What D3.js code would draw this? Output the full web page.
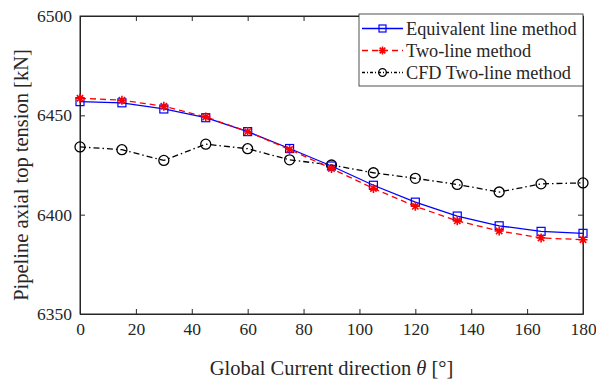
<!DOCTYPE html>
<html><head><meta charset="utf-8">
<script src="https://cdn.jsdelivr.net/npm/d3@7"></script>
<style>body{margin:0;background:#fff}svg{display:block}text{font-family:"Liberation Serif","Times New Roman",serif;fill:#262626}</style>
</head><body><svg id="c" width="596" height="382"></svg>
<script>
const angles = [0,15,30,45,60,75,90,105,120,135,150,165,180];
const equivalent = [6456.9,6456.3,6453.2,6448.8,6441.8,6433.3,6424.5,6414.8,6406.3,6399.3,6394.4,6391.6,6390.6];
const twoLine = [6458.6,6457.6,6454.6,6449.2,6441.8,6432.8,6423.2,6413.2,6404.2,6396.9,6391.8,6388.3,6387.4];
const cfdTwoLine = [6434.1,6432.7,6427.3,6435.5,6433.2,6427.6,6425.0,6421.1,6418.3,6415.2,6411.4,6415.5,6416.0];
const xTicks = [0,20,40,60,80,100,120,140,160,180];
const yTicks = [6350,6400,6450,6500];
const seriesNames = ["Equivalent line method","Two-line method","CFD Two-line method"];

const svg = d3.select("#c");
const L=80,R=583,T=16,B=314;
const x = d3.scaleLinear().domain([0,180]).range([L,R]);
const y = d3.scaleLinear().domain([6350,6500]).range([B,T]);

const axCol="#262626";
svg.append("rect").attr("x",L).attr("y",T).attr("width",R-L).attr("height",B-T).attr("fill","none").attr("stroke",axCol).attr("stroke-width",1);

const xa = svg.append("g").attr("transform",`translate(0,${B})`).call(d3.axisBottom(x).tickValues(xTicks).tickSizeInner(-5).tickSizeOuter(0).tickPadding(9));
const ya = svg.append("g").attr("transform",`translate(${L},0)`).call(d3.axisLeft(y).tickValues(yTicks).tickSizeInner(-5).tickSizeOuter(0).tickPadding(8).tickFormat(d3.format("d")));
const xt = svg.append("g").attr("transform",`translate(0,${T})`).call(d3.axisTop(x).tickValues(xTicks).tickSizeInner(-5).tickSizeOuter(0).tickFormat(""));
const yr = svg.append("g").attr("transform",`translate(${R},0)`).call(d3.axisRight(y).tickValues(yTicks).tickSizeInner(-5).tickSizeOuter(0).tickFormat(""));
[xa,ya,xt,yr].forEach(g=>{g.attr("font-family",null);g.select(".domain").attr("stroke",axCol);g.selectAll("line").attr("stroke",axCol);
  g.selectAll("text").style("font-size","17.5px").style("font-family","'Liberation Serif','Times New Roman',serif").attr("fill",axCol);});

svg.append("text").attr("x",(L+R)/2).attr("y",375).attr("text-anchor","middle").style("font-size","20.5px")
  .html('Global Current direction <tspan font-style="italic">θ</tspan> [°]');
svg.append("text").attr("transform",`translate(28,${(T+B)/2+10}) rotate(-90)`).attr("text-anchor","middle").style("font-size","20.5px")
  .text("Pipeline axial top tension [kN]");

const line = d3.line().x((d,i)=>x(angles[i])).y(d=>y(d));
const clip = svg.append("g");

function drawSeries(vals,color,dash,marker){
  clip.append("path").datum(vals).attr("d",line).attr("fill","none").attr("stroke",color).attr("stroke-width",1.3).attr("stroke-dasharray",dash);
  const g = clip.append("g");
  vals.forEach((v,i)=>marker(g,x(angles[i]),y(v)));
}
function sq(g,cx,cy,s=4){g.append("rect").attr("x",cx-s).attr("y",cy-s).attr("width",2*s).attr("height",2*s).attr("fill","none").attr("stroke","#0000ff").attr("stroke-width",1.2);}
function star(g,cx,cy,s=4.5){
  const p=[];[0,45,90,135].forEach(a=>{const r=a*Math.PI/180;p.push(`M${cx-s*Math.cos(r)},${cy-s*Math.sin(r)}L${cx+s*Math.cos(r)},${cy+s*Math.sin(r)}`);});
  g.append("path").attr("d",p.join("")).attr("stroke","#ff0000").attr("stroke-width",1.6).attr("fill","none");}
function circ(g,cx,cy,s=5){g.append("circle").attr("cx",cx).attr("cy",cy).attr("r",s).attr("fill","none").attr("stroke","#000").attr("stroke-width",1.3);}

drawSeries(cfdTwoLine,"#000","6,3,1.5,3",circ);
drawSeries(equivalent,"#0000ff",null,sq);
drawSeries(twoLine,"#ff0000","6,4",star);

const lg = svg.append("g");
lg.append("rect").attr("x",359).attr("y",14).attr("width",224).attr("height",72).attr("fill","#fff").attr("stroke","#262626").attr("stroke-width",0.8);
const rows=[{c:"#0000ff",d:null,m:sq},{c:"#ff0000",d:"6,4",m:star},{c:"#000",d:"3,2,1,2",m:circ}];
rows.forEach((r,i)=>{
  const yy=28.5+i*22;
  lg.append("line").attr("x1",362).attr("x2",403).attr("y1",yy).attr("y2",yy).attr("stroke",r.c).attr("stroke-width",1.3).attr("stroke-dasharray",r.d);
  r.m(lg,382.5,yy,i==0?3.5:(i==1?4:3.8));
  lg.append("text").attr("x",406).attr("y",yy+6).style("font-size","18.3px").text(seriesNames[i]);
});
</script></body></html>
